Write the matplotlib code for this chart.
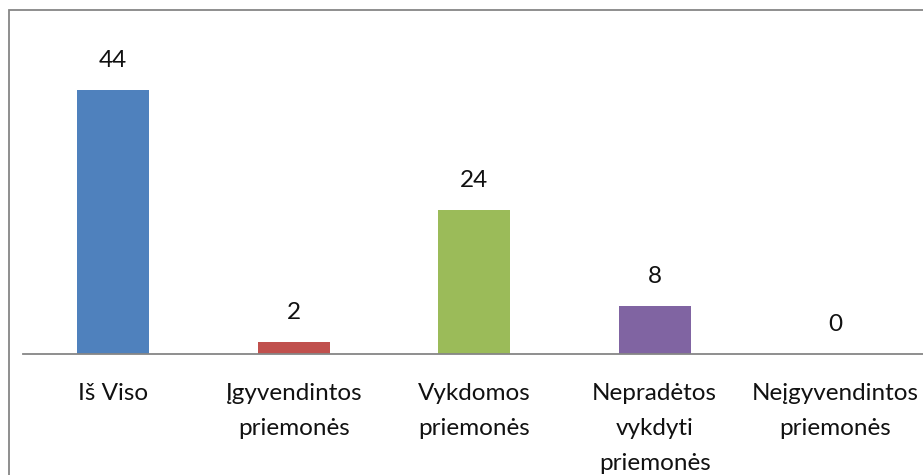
import matplotlib
matplotlib.use('Agg')
import matplotlib.pyplot as plt
from matplotlib.patches import Rectangle

# Chart data
categories = ['Iš Viso', 'Įgyvendintos\npriemonės', 'Vykdomos\npriemonės',
              'Nepradėtos\nvykdyti\npriemonės', 'Neįgyvendintos\npriemonės']
values = [44, 2, 24, 8, 0]
colors = ['#4F81BD', '#C0504D', '#9BBB59', '#8064A2', '#4BACC6']

plt.rcParams['font.family'] = ['Lato', 'DejaVu Sans']

W, H = 923, 475
fig = plt.figure(figsize=(W / 100, H / 100), dpi=100)

# outer chart border, right and bottom edges run off the picture
fig.patches.append(Rectangle((9 / W, -0.1), 1.2, (H - 10) / H + 0.1,
                             transform=fig.transFigure, fill=False,
                             edgecolor='#868686', linewidth=1.3))

base_y = 354
ax = fig.add_axes([23 / W, (H - base_y) / H, 902.5 / W, 300 / H])
ax.bar(range(len(values)), values, width=0.4, color=colors)
ax.set_xlim(-0.5, len(values) - 0.5)
ax.set_ylim(0, 50)

for i, v in enumerate(values):
    ax.annotate(str(v), (i, v), xytext=(0, 21), textcoords='offset points',
                ha='center', va='center', fontsize=17.5, color='#111111')

ax.set_xticks(range(len(values)))
ax.set_xticklabels(categories, fontsize=17.5, linespacing=1.82, color='#111111')
ax.tick_params(axis='x', length=0, pad=21)
ax.set_yticks([])
for side in ['left', 'right', 'top']:
    ax.spines[side].set_visible(False)
ax.spines['bottom'].set_color('#868686')
ax.spines['bottom'].set_linewidth(1.3)

fig.savefig('out.png', dpi=100)
